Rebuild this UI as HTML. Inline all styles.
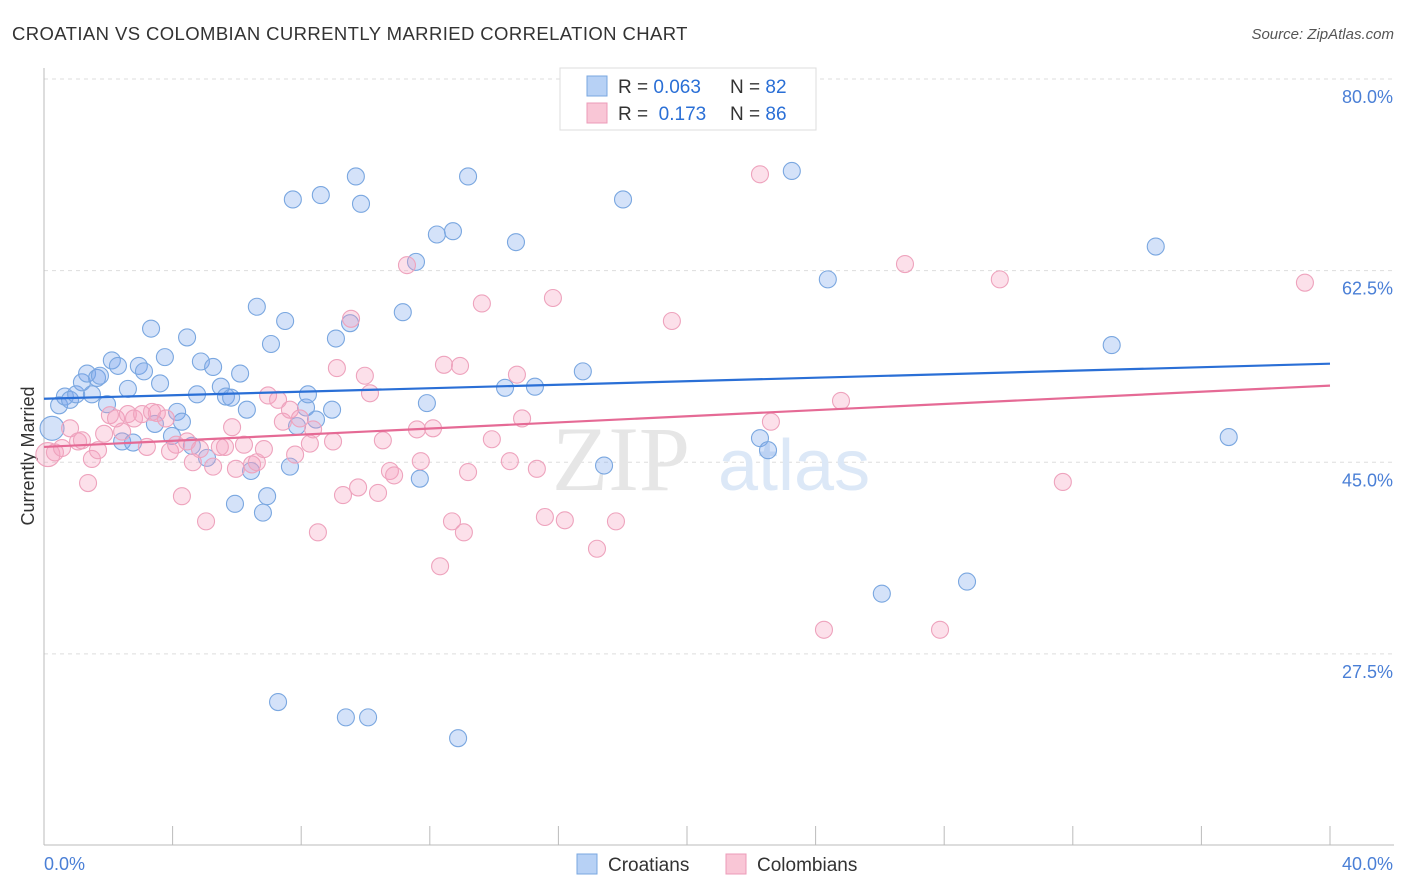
<!DOCTYPE html>
<html><head><meta charset="utf-8">
<style>
body{margin:0;background:#fff;font-family:"Liberation Sans",sans-serif;}
#wrap{position:relative;width:1406px;height:892px;overflow:hidden;}
</style></head>
<body>
<div id="wrap">
<svg id="chart" width="1406" height="892"></svg>
</div>
<script>
const croatianX=[0.25,0.47,0.65,0.81,1.0,1.18,1.34,1.49,1.65,1.74,1.96,2.11,2.30,2.43,2.61,2.77,2.95,3.11,3.33,3.45,3.61,3.76,3.98,4.14,4.29,4.45,4.60,4.76,4.88,5.07,5.26,5.50,5.66,5.82,5.94,6.10,6.31,6.44,6.62,6.81,6.94,7.06,7.28,7.50,7.65,7.74,7.87,8.15,8.21,8.46,8.61,8.96,9.08,9.39,9.52,9.70,9.86,10.08,11.16,11.57,11.69,11.91,12.22,12.72,12.88,13.19,14.34,14.68,15.27,16.76,17.42,18.01,22.27,22.52,23.26,24.38,26.06,28.71,33.21,34.58,36.85];
const croatianY=[48.1,50.2,51.0,50.7,51.2,52.3,53.1,51.2,52.7,52.9,50.3,54.3,53.8,46.9,51.7,46.8,53.8,53.3,57.2,48.5,52.2,54.6,47.4,49.6,48.7,56.4,46.5,51.2,54.2,45.4,53.7,51.9,51.0,50.9,41.2,53.1,49.8,44.2,59.2,40.4,41.9,55.8,23.1,57.9,44.6,69.0,48.3,50.0,51.2,48.9,69.4,49.8,56.3,21.7,57.7,71.1,68.6,21.7,58.7,63.3,43.5,50.4,65.8,66.1,19.8,71.1,51.8,65.1,51.9,53.3,44.7,69.0,47.2,46.1,71.6,61.7,33.0,34.1,55.7,64.7,47.3];
const colombianX=[0.12,0.34,0.56,0.81,1.06,1.18,1.37,1.49,1.68,1.87,2.05,2.24,2.43,2.61,2.80,3.05,3.20,3.36,3.51,3.79,3.92,4.11,4.29,4.45,4.63,4.85,5.04,5.26,5.47,5.63,5.85,5.97,6.22,6.47,6.62,6.84,6.97,7.28,7.43,7.65,7.81,7.96,8.27,8.37,8.52,8.99,9.11,9.30,9.55,9.77,9.98,10.14,10.39,10.54,10.76,10.89,11.29,11.60,11.72,12.10,12.32,12.44,12.69,12.94,13.06,13.19,13.62,13.93,14.49,14.71,14.87,15.33,15.58,15.83,16.20,17.20,17.79,19.53,22.27,22.61,24.26,24.79,26.78,27.87,29.73,31.69,39.22];
const colombianY=[45.7,45.9,46.3,48.1,46.9,47.0,43.1,45.3,46.1,47.6,49.3,49.0,47.8,49.4,49.0,49.4,46.4,49.6,49.5,49.0,46.0,46.6,41.9,46.9,45.0,46.2,39.6,44.6,46.4,46.4,48.2,44.4,46.6,44.8,45.0,46.2,51.1,50.7,48.7,49.8,45.7,49.0,46.7,48.0,38.6,46.9,53.6,42.0,58.1,42.7,52.9,51.3,42.2,47.0,44.2,43.8,63.0,48.0,45.1,48.1,35.5,53.9,39.6,53.8,38.6,44.1,59.5,47.1,45.1,53.0,49.0,44.4,40.0,60.0,39.7,37.1,39.6,57.9,71.3,48.7,29.7,50.6,63.1,29.7,61.7,43.2,61.4];
const croatianTrend=[50.8,54.0];
const colombianTrend=[46.4,52.0];
const yTicks=[80,62.5,45,27.5];
const yTickLabels=["80.0%","62.5%","45.0%","27.5%"];

const NS="http://www.w3.org/2000/svg";
const svg=document.getElementById('chart');
const X0=44,X1=1330,Y80=79,PXPER=10.95;
const xs=v=>X0+(v/40)*(X1-X0);
const ys=v=>Y80+(80-v)*PXPER;
function mk(tag,attrs,parent){const e=document.createElementNS(NS,tag);for(const k in attrs)e.setAttribute(k,attrs[k]);(parent||svg).appendChild(e);return e;}

let t=mk('text',{x:12,y:40,'font-size':18.5,fill:'#333','letter-spacing':0.4});
t.textContent='CROATIAN VS COLOMBIAN CURRENTLY MARRIED CORRELATION CHART';


t=mk('text',{x:1394,y:39,'font-size':15,fill:'#555','text-anchor':'end','font-style':'italic'});
t.textContent='Source: ZipAtlas.com';



yTicks.forEach((v,i)=>{
  const g=mk('line',{x1:X0,x2:1394,y1:ys(v),y2:ys(v),stroke:'#ddd','stroke-dasharray':'4,4'});
  
  
  const l=mk('text',{x:1393,y:ys(v)+24,'font-size':18,fill:'#4a7fd6','text-anchor':'end'});
  l.textContent=yTickLabels[i];
  
  
});
let a=mk('line',{x1:X0,x2:X0,y1:68,y2:845,stroke:'#bbb'});


a=mk('line',{x1:X0,x2:1394,y1:845,y2:845,stroke:'#bbb'});


for(let i=0;i<=10;i++){
  const tk=mk('line',{x1:xs(i*4),x2:xs(i*4),y1:826,y2:845,stroke:'#bbb'});
  
  
}
t=mk('text',{x:44,y:870,'font-size':18,fill:'#4a7fd6'});t.textContent='0.0%';


t=mk('text',{x:1393,y:870,'font-size':18,fill:'#4a7fd6','text-anchor':'end'});t.textContent='40.0%';


t=mk('text',{x:34,y:456,'font-size':18,fill:'#333','text-anchor':'middle',transform:'rotate(-90 34 456)'});
t.textContent='Currently Married';



t=mk('text',{x:552,y:490,'font-size':92,fill:'#e6e6e6','font-family':'Liberation Serif, serif'});t.textContent='ZIP';


t=mk('text',{x:718,y:490,'font-size':72,fill:'#dce8f7'});t.textContent='atlas';



function pts(xa,ya,fill,stroke,name){
  xa.forEach((x,i)=>{
    const c=mk('circle',{cx:xs(x),cy:ys(ya[i]),r:i===0?12:8.5,fill:fill,stroke:stroke,'stroke-width':1.1});
    
    
  });
}
pts(croatianX,croatianY,'rgba(120,165,235,0.32)','#7aa7e0','croatian-point');
pts(colombianX,colombianY,'rgba(245,160,190,0.32)','#eea3bd','colombian-point');

let tl=mk('line',{x1:xs(0),y1:ys(croatianTrend[0]),x2:xs(40),y2:ys(croatianTrend[1]),stroke:'#2a6fd6','stroke-width':2.2});


tl=mk('line',{x1:xs(0),y1:ys(colombianTrend[0]),x2:xs(40),y2:ys(colombianTrend[1]),stroke:'#e56a95','stroke-width':2.2});



let lg=mk('rect',{x:560,y:68,width:256,height:62,fill:'#fff',stroke:'#ddd'});


[[0,'#b7d1f5','#7aa7e0','0.063','82'],[1,'#f9c6d6','#ec9bb8','0.173','86']].forEach(r=>{
  const y=86+r[0]*27;
  const sq=mk('rect',{x:587,y:y-10,width:20,height:20,fill:r[1],stroke:r[2]});
  
  
  const tx=mk('text',{x:618,y:y+7,'font-size':19,fill:'#333'});
  tx.innerHTML='R = <tspan fill="#2a6fd6">'+(r[0]?'&#160;':'')+r[3]+'</tspan><tspan x="730">N = </tspan><tspan fill="#2a6fd6">'+r[4]+'</tspan>';
  
  
});

[[577,'#b7d1f5','#7aa7e0','Croatians'],[726,'#f9c6d6','#ec9bb8','Colombians']].forEach(r=>{
  const sq=mk('rect',{x:r[0],y:854,width:20,height:20,fill:r[1],stroke:r[2]});
  
  
  const tx=mk('text',{x:r[0]+31,y:871,'font-size':19,fill:'#333'});
  tx.textContent=r[3];
  
  
});
</script>
</body></html>
